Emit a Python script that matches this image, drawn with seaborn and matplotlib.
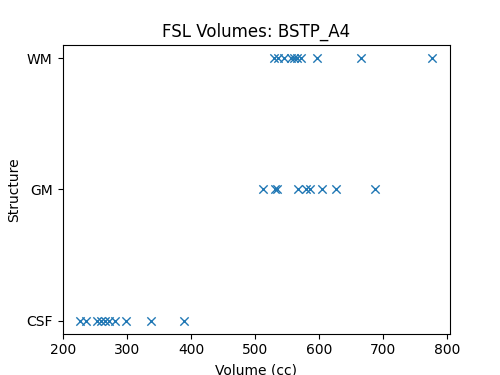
#FSL volume strip chart

#Import modules
import matplotlib
matplotlib.use('Agg')
import matplotlib.pyplot as plt
import pandas as pd
import seaborn as sns

#Volumes (cc)
csf_vol = [226, 235, 252, 259, 265, 271, 280, 298, 337, 388]
gm_vol = [512, 531, 534, 567, 580, 585, 604, 627, 688]
wm_vol = [530, 535, 545, 556, 560, 565, 572, 596, 666, 777]

structures = ['CSF', 'GM', 'WM']

#Long table, CSF first
df = pd.DataFrame({
    'Volume': csf_vol + gm_vol + wm_vol,
    'Structure': ['CSF'] * len(csf_vol) + ['GM'] * len(gm_vol) + ['WM'] * len(wm_vol),
})

fig, ax = plt.subplots(figsize = (5, 3.75), dpi = 100)
sns.scatterplot(data = df, x = 'Volume', y = 'Structure', marker = 'x', s = 36,
                color = 'tab:blue', linewidth = 1, ax = ax)
#seaborn flips categorical y; put CSF back at the bottom
if ax.yaxis_inverted():
    ax.invert_yaxis()
ax.set_title('FSL Volumes: BSTP_A4')
ax.set_xlabel('Volume (cc)')
ax.set_ylabel('Structure')
fig.savefig('out.png', dpi = 100)
